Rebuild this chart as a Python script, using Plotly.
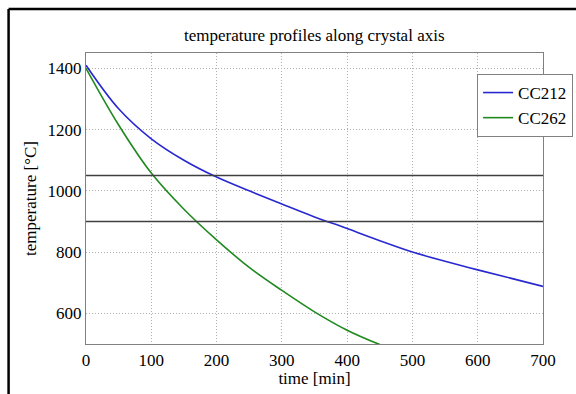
import plotly.graph_objects as go

# cooling curves along the crystal axis
time_cc212 = [0, 50, 100, 150, 200, 250, 300, 350, 400, 450, 500, 550, 600, 650, 700]
temp_cc212 = [1410, 1268, 1170, 1100, 1045, 1000, 957, 915, 877, 837, 800, 770, 742, 715, 688]

time_cc262 = [0, 50, 100, 150, 200, 250, 300, 350, 400, 450]
temp_cc262 = [1400, 1215, 1058, 940, 840, 750, 675, 605, 545, 498]

thresholds = [1050, 900]

x_ticks = [0, 100, 200, 300, 400, 500, 600, 700]
y_ticks = [600, 800, 1000, 1200, 1400]

FONT = "Liberation Serif"

fig = go.Figure()
fig.add_trace(go.Scatter(x=time_cc212, y=temp_cc212, mode="lines", name="CC212",
                         line=dict(color="#2828d0", width=1.6, shape="spline")))
fig.add_trace(go.Scatter(x=time_cc262, y=temp_cc262, mode="lines", name="CC262",
                         line=dict(color="#208a20", width=1.6, shape="spline")))

for t in thresholds:
    fig.add_shape(type="line", xref="paper", yref="y", x0=0, x1=1, y0=t, y1=t,
                  line=dict(color="#404040", width=1.6), layer="above")

# outer frame (left and top edges)
ML, MR, MT, MB = 85.5, 33, 53, 50
PW, PH = 576 - ML - MR, 394 - MT - MB
fx = (8 - ML) / PW
fy = 1 + (MT - 9) / PH
fig.add_shape(type="line", xref="paper", yref="paper", x0=fx, x1=fx, y0=-1, y1=fy,
              line=dict(color="black", width=2.5))
fig.add_shape(type="line", xref="paper", yref="paper", x0=fx, x1=2, y0=fy, y1=fy,
              line=dict(color="black", width=2.5))

axis_common = dict(showgrid=True, gridcolor="#b0b0b0", griddash="1px,2px", gridwidth=1,
                   showline=True, linecolor="#808080", linewidth=1.2, mirror=True,
                   zeroline=False, ticks="", tickfont=dict(family=FONT, size=17, color="black"))

fig.update_layout(
    width=576, height=394,
    margin=dict(l=ML, r=MR, t=MT, b=MB, autoexpand=False),
    paper_bgcolor="white", plot_bgcolor="white",
    font=dict(family=FONT, color="black"),
    title=dict(text="temperature profiles along crystal axis", x=(ML + 543) / 2 / 576,
               xanchor="center", y=1 - 35 / 394, yanchor="middle",
               font=dict(family=FONT, size=17, color="black")),
    xaxis=dict(range=[0, 700], tickvals=x_ticks, title=dict(text="time [min]", standoff=2,
               font=dict(family=FONT, size=17)), **axis_common),
    yaxis=dict(range=[500, 1450], tickvals=y_ticks, title=dict(text="temperature [°C]", standoff=6,
               font=dict(family=FONT, size=17)), **axis_common),
    legend=dict(x=(477 - ML) / PW, y=(344 - 74) / PH, xanchor="left", yanchor="top",
                bgcolor="white", bordercolor="#808080", borderwidth=1,
                font=dict(family=FONT, size=17, color="black"),
                tracegroupgap=0, itemwidth=30),
    showlegend=True,
)

fig.write_html("out.html")
